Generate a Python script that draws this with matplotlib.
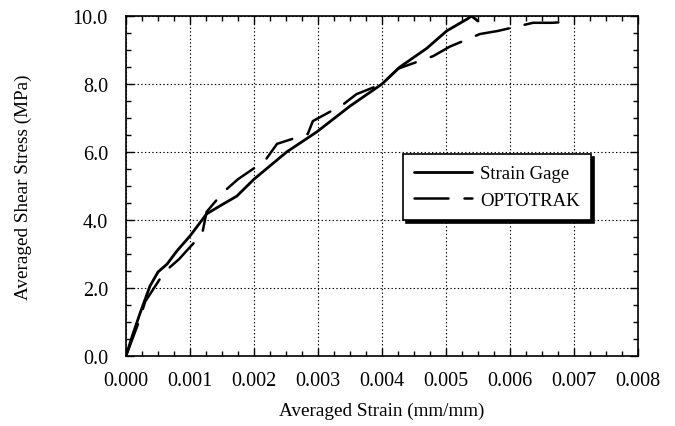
import matplotlib
matplotlib.use("Agg")
import matplotlib.pyplot as plt
from matplotlib.ticker import MultipleLocator, FormatStrFormatter

plt.rcParams['font.family'] = ['Liberation Serif', 'DejaVu Serif']
plt.rcParams['lines.scale_dashes'] = False

# Strain Gage (solid)
sg_strain = [0.0, 0.0001, 0.00022, 0.000375, 0.0005, 0.00064, 0.0008, 0.001, 0.00126,
             0.0015, 0.00173, 0.002, 0.00251, 0.00298, 0.0035, 0.004, 0.00428,
             0.0047, 0.00501, 0.00533, 0.0054, 0.0055]
sg_stress = [0.0, 0.6, 1.26, 2.06, 2.47, 2.7, 3.1, 3.53, 4.18,
             4.45, 4.7, 5.2, 6.0, 6.59, 7.35, 8.0, 8.5,
             9.05, 9.56, 9.91, 10.0, 9.85]

# OPTOTRAK (dashed)
op_strain = [0.0, 0.0002, 0.0003, 0.0006, 0.00083, 0.00095, 0.00119, 0.00126, 0.00152,
             0.00175, 0.00217, 0.00236, 0.00284, 0.00292, 0.00338, 0.0036, 0.004,
             0.00425, 0.0048, 0.00506, 0.00553, 0.00581, 0.00636, 0.00666, 0.00683]
op_stress = [0.0, 1.0, 1.6, 2.47, 2.85, 3.1, 3.59, 4.24, 4.82,
             5.2, 5.74, 6.24, 6.53, 6.91, 7.38, 7.7, 8.0,
             8.45, 8.82, 9.1, 9.47, 9.56, 9.8, 9.8, 9.82]

x_ticks = [0.000, 0.001, 0.002, 0.003, 0.004, 0.005, 0.006, 0.007, 0.008]
y_ticks = [0.0, 2.0, 4.0, 6.0, 8.0, 10.0]

fig = plt.figure(figsize=(6.75, 4.27), dpi=100)
ax = fig.add_axes([126/675, 70/427, 512/675, 340/427])

ax.plot(sg_strain, sg_stress, color='black', lw=2.0, label='Strain Gage',
        solid_joinstyle='round', solid_capstyle='round')
ax.plot(op_strain, op_stress, color='black', lw=1.8, dashes=(24.5, 11.5),
        dash_capstyle='round', label='OPTOTRAK')

ax.set_xlim(0, 0.008)
ax.set_ylim(0, 10)
ax.set_xticks(x_ticks)
ax.set_yticks(y_ticks)
ax.xaxis.set_major_formatter(FormatStrFormatter('%.3f'))
ax.yaxis.set_major_formatter(FormatStrFormatter('%.1f'))
ax.xaxis.set_minor_locator(MultipleLocator(0.00025))
ax.yaxis.set_minor_locator(MultipleLocator(0.5))
ax.tick_params(which='both', direction='in', top=True, right=True, labelsize=14.5)
ax.tick_params(which='major', length=6, width=1)
ax.tick_params(which='minor', length=3.5, width=1)
ax.tick_params(axis='x', pad=11)
ax.tick_params(axis='y', pad=13)
ax.grid(True, which='major', linestyle=':', color='black', lw=0.8)
for s in ax.spines.values():
    s.set_linewidth(1.2)

ax.set_xlabel('Averaged Strain (mm/mm)', fontsize=13.8)
ax.set_ylabel('Averaged Shear Stress (MPa)', fontsize=13.8)
ax.xaxis.set_label_coords(0.5, -0.135)
ax.yaxis.set_label_coords(-0.184, 0.5)

leg = ax.legend(loc='upper left', bbox_to_anchor=(0.541, 0.397, 0.367, 0.197),
                mode='expand', borderaxespad=0,
                fontsize=13.5, frameon=True, fancybox=False, handlelength=3.1,
                handletextpad=0.4, borderpad=0.6, labelspacing=0.5,
                shadow={'color': 'black', 'alpha': 1.0})
leg.get_frame().set_edgecolor('black')
leg.get_frame().set_linewidth(1.2)
leg.get_frame().set_alpha(1.0)

fig.savefig('out.png', dpi=100)
